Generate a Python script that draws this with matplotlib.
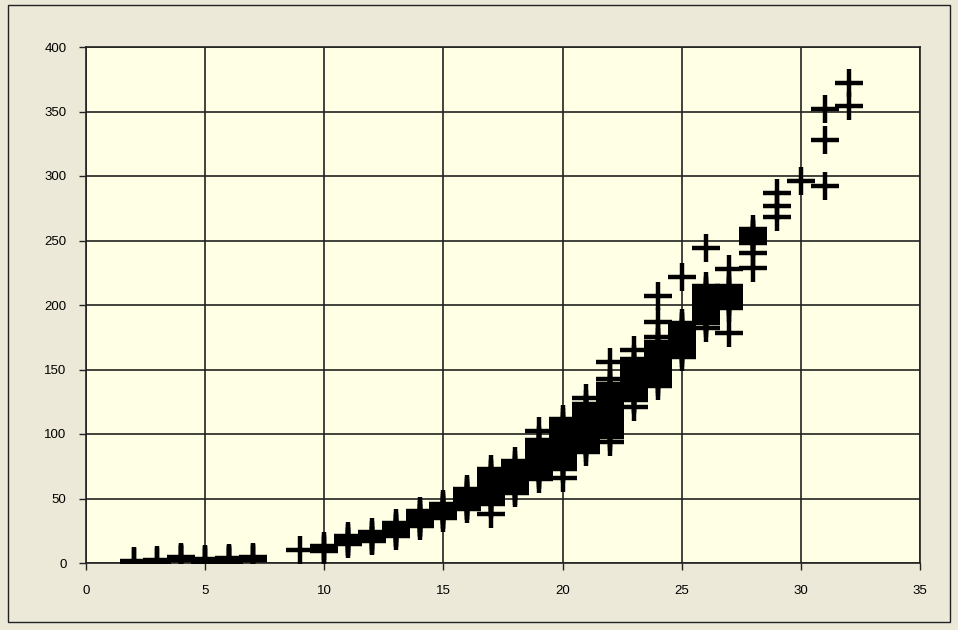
import matplotlib
matplotlib.use("Agg")
import matplotlib.pyplot as plt
from matplotlib.patches import Rectangle

# length (x) and weight (y) readings, grouped by length
lengths = [2, 3, 4, 5, 6, 7, 9, 10, 11, 12, 13, 14, 15, 16, 17, 18, 19, 20,
           21, 22, 23, 24, 25, 26, 27, 28, 29, 30, 31, 32]
weights = [
    [0.5, 1.5],
    [1, 2],
    [2, 3, 4, 5],
    [1, 2, 3],
    [1, 2, 3, 4],
    [2, 4, 5],
    [10],
    [9, 11, 13],
    [15, 16, 17, 19, 21],
    [17, 18, 20, 22, 24],
    [21, 23, 24, 26, 27, 29, 31],
    [29, 31, 32, 34, 35, 37, 38, 40],
    [35, 37, 38, 40, 41, 43, 44, 46],
    [42, 44, 45, 47, 48, 50, 51, 53, 54, 56, 57],
    [38, 46, 48, 50, 52, 54, 56, 58, 60, 62, 64, 66, 68, 70, 73],
    [54, 56, 58, 60, 62, 64, 66, 68, 70, 72, 74, 76, 79],
    [65, 68, 70, 72, 74, 76, 78, 80, 82, 84, 86, 88, 90, 92, 95, 102],
    [66, 73, 76, 78, 80, 82, 84, 86, 88, 90, 92, 94, 96, 98, 100, 102,
     104, 106, 109, 112],
    [86, 89, 92, 94, 96, 98, 100, 102, 104, 106, 108, 110, 112, 114, 116,
     118, 120, 123, 128],
    [94, 98, 101, 103, 106, 108, 110, 112, 114, 116, 118, 120, 122, 124,
     126, 128, 130, 132, 134, 136, 139, 143, 156],
    [121, 126, 128, 130, 132, 134, 136, 138, 140, 142, 144, 146, 148, 150,
     152, 155, 158, 165],
    [137, 140, 143, 146, 148, 150, 152, 154, 156, 158, 160, 162, 164, 166,
     168, 171, 175, 187, 207],
    [160, 163, 165, 167, 170, 172, 174, 176, 178, 180, 182, 184, 186, 222],
    [182, 186, 188, 190, 192, 194, 196, 198, 200, 202, 204, 206, 208, 210,
     212, 215, 244],
    [178, 198, 200, 202, 205, 207, 210, 212, 215, 228],
    [229, 240, 248, 250, 252, 254, 256, 259],
    [268, 277, 287],
    [296],
    [292, 328, 352],
    [354, 372],
]

xs = [x for x, ws in zip(lengths, weights) for _ in ws]
ys = [w for ws in weights for w in ws]

x_ticks = [0, 5, 10, 15, 20, 25, 30, 35]
y_ticks = [0, 50, 100, 150, 200, 250, 300, 350, 400]

plt.rcParams['font.family'] = ['Liberation Sans', 'DejaVu Sans']

fig = plt.figure(figsize=(9.58, 6.3), dpi=100, facecolor='#ECE9D8')
ax = fig.add_axes([86 / 958, 1 - 563 / 630, (920 - 86) / 958, (563 - 47) / 630])
ax.set_facecolor('#FFFFE5')

# chart area border
fig.patches.append(Rectangle((8 / 958, 1 - 622 / 630), 942 / 958, 617 / 630,
                             transform=fig.transFigure, fill=False,
                             edgecolor='#222222', linewidth=1.0))

ax.plot(xs, ys, linestyle='none', marker='+', markersize=20,
        markeredgewidth=3.2, color='black', zorder=3)

ax.set_xlim(0, 35)
ax.set_ylim(0, 400)
ax.set_xticks(x_ticks)
ax.set_yticks(y_ticks)
ax.grid(True, color='#222222', linewidth=1.2, zorder=1)
ax.set_axisbelow(True)
for s in ax.spines.values():
    s.set_color('#222222')
    s.set_linewidth(1.2)
ax.tick_params(direction='out', length=5, width=1, color='#222222',
               labelsize=9.5, labelcolor='black')
ax.tick_params(axis='x', pad=11)
ax.tick_params(axis='y', pad=9)

fig.savefig('out.png', dpi=100, facecolor=fig.get_facecolor())
